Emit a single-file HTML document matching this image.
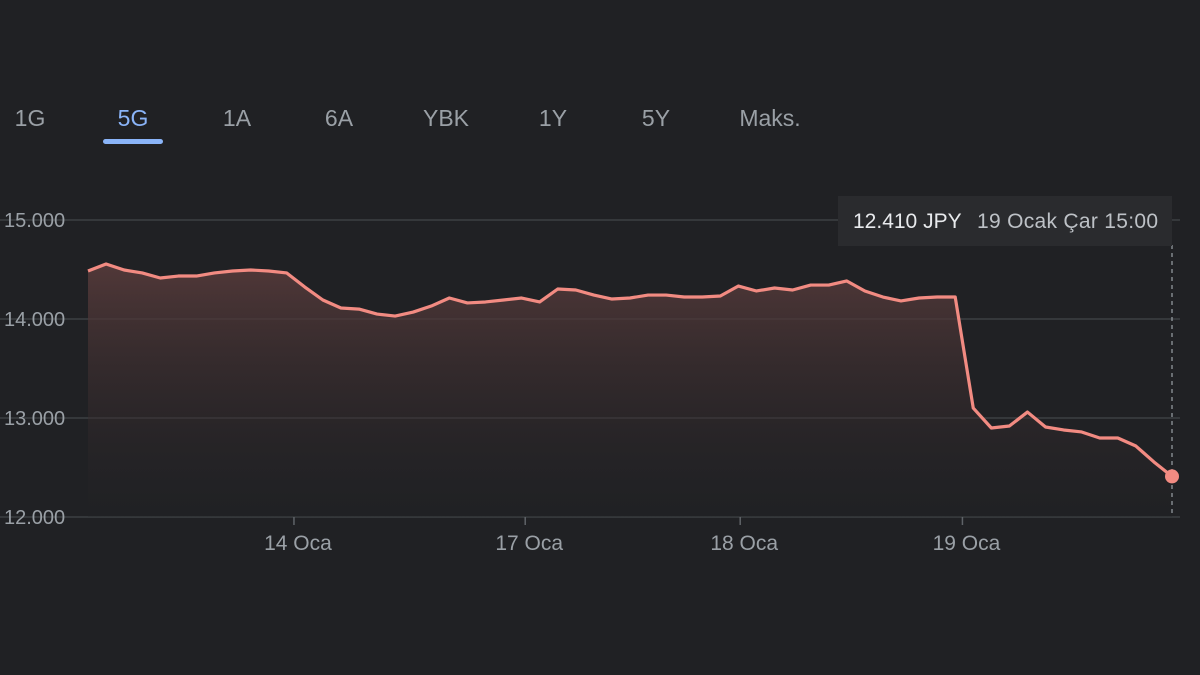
<!DOCTYPE html>
<html><head><meta charset="utf-8"><style>
body{margin:0;background:#202124;width:1200px;height:675px;overflow:hidden;font-family:"Liberation Sans",sans-serif}
svg{display:block}
</style></head><body>
<svg id="c" width="1200" height="675">
<defs><linearGradient id="g" x1="0" y1="0" x2="0" y2="1">
<stop offset="0" stop-color="#5a3c3c" stop-opacity="0.85"/><stop offset="1" stop-color="#202124" stop-opacity="0.2"/></linearGradient></defs>
</svg>
<script>
const values=[14485,14556,14495,14465,14414,14434,14434,14465,14485,14495,14485,14465,14323,14192,14111,14100,14050,14030,14070,14131,14212,14162,14172,14192,14212,14172,14303,14293,14242,14202,14212,14242,14242,14222,14222,14232,14333,14283,14313,14293,14343,14343,14384,14283,14222,14182,14212,14222,14222,13100,12899,12919,13060,12909,12879,12859,12798,12798,12717,12556,12410];
const yTicks=[15000,14000,13000,12000];
const yTickLabels=["15.000","14.000","13.000","12.000"];
const xLabels=["14 Oca","17 Oca","18 Oca","19 Oca"];
const xLabelIdx=[11.4,24.2,36.1,48.4];
const tabs=["1G","5G","1A","6A","YBK","1Y","5Y","Maks."];
const NS="http://www.w3.org/2000/svg";
const svg=document.getElementById('c');
const x=i=>88+i*(1172-88)/(values.length-1);
const y=v=>220+(15000-v)*297/3000;
function el(t,a,txt){const e=document.createElementNS(NS,t);for(const k in a)e.setAttribute(k,a[k]);if(txt!=null)e.textContent=txt;svg.appendChild(e);return e;}
const tabX=[30,133,237,339,446,553,656,770];
tabs.forEach((t,i)=>{const e=el('text',{x:tabX[i],y:126,'text-anchor':'middle','font-size':23,fill:i==1?'#8ab4f8':'#9aa0a6'},t);

});
const ul=el('rect',{x:103,y:139,width:60,height:5,rx:2.5,fill:'#8ab4f8'});


yTicks.forEach((v,i)=>{const l=el('line',{x1:0,x2:1180,y1:y(v),y2:y(v),stroke:'#3c4043','stroke-width':1.5});


const t=el('text',{x:4,y:y(v)+7,'font-size':20,fill:'#9aa0a6'},yTickLabels[i]);

});
let d='M'+x(0)+','+y(values[0]);values.forEach((v,i)=>{if(i)d+=' L'+x(i)+','+y(v);});
const a=el('path',{d:d+' L'+x(values.length-1)+',517 L'+x(0)+',517 Z',fill:'url(#g)'});


const p=el('path',{d:d,fill:'none',stroke:'#f28b82','stroke-width':3.2,'stroke-linejoin':'round'});


xLabels.forEach((s,i)=>{const xx=x(xLabelIdx[i]);
const tk=el('line',{x1:xx,x2:xx,y1:517,y2:525,stroke:'#5f6368','stroke-width':1.5});


const t=el('text',{x:xx+4,y:550,'text-anchor':'middle','font-size':21,fill:'#9aa0a6'},s);

});
const lx=x(values.length-1),ly=y(values[values.length-1]);
const dl=el('line',{x1:lx,x2:lx,y1:245,y2:517,stroke:'#9aa0a6','stroke-width':1.2,'stroke-dasharray':'4,4'});


const dot=el('circle',{cx:lx,cy:ly,r:7,fill:'#f28b82'});


const tb=el('rect',{x:838,y:196,width:334,height:50,fill:'#2a2b2e'});


const t1=el('text',{x:853,y:228,'font-size':21,fill:'#e8eaed'},'12.410 JPY');


const t2=el('text',{x:977,y:228,'font-size':21,fill:'#bdc1c6',textLength:181},'19 Ocak Çar 15:00');


</script>
</body></html>
